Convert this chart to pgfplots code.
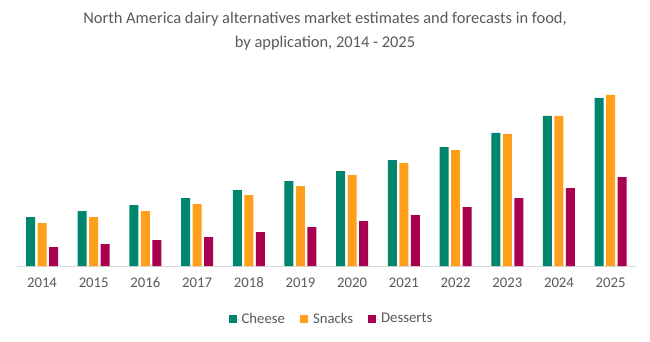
\documentclass[border=0pt]{standalone}
\usepackage{pgfplots}
\pgfplotsset{compat=1.18}
\usepackage{fontspec}
\setmainfont{Carlito}
\definecolor{cheese}{HTML}{00856F}
\definecolor{snacks}{HTML}{FF9F1C}
\definecolor{desserts}{HTML}{A8004F}
\definecolor{txt}{HTML}{595959}
\definecolor{axgray}{HTML}{D9D9D9}
\begin{document}
\begin{tikzpicture}[x=1bp,y=1bp]
\path[use as bounding box] (0,0) rectangle (650,341);
\node[text=txt, font=\fontsize{16.5}{24}\selectfont, align=center] at (325,310) {North America dairy alternatives market estimates and forecasts in food,\\ by application, 2014 - 2025};
\begin{axis}[
  at={(17bp,75bp)}, anchor=south west,
  scale only axis, width=619bp, height=186bp,
  xmin=-0.4836, xmax=11.49, ymin=0, ymax=186,
  ybar=2.5bp, bar width=9bp,
  axis x line=bottom, axis y line=none,
  x axis line style={-, draw=axgray, line width=1bp},
  xtick={0,...,11},
  xticklabels={2014,2015,2016,2017,2018,2019,2020,2021,2022,2023,2024,2025},
  major tick length=0pt,
  xticklabel style={font=\fontsize{14.8}{17}\selectfont, text=txt, yshift=-8bp},
  ytick=\empty,
  clip=false,
  legend columns=3,
  legend style={at={(0.508,-0.285)}, anchor=center, draw=none, font=\fontsize{14.8}{17}\selectfont, text=txt,
    /tikz/every even column/.append style={column sep=13bp}},
  legend image code/.code={\fill[#1] (0bp,-4bp) rectangle (8bp,4bp); \path (0bp,0bp) -- (11bp,0bp);},
]
\addplot[fill=cheese, draw=none] coordinates {(0,49) (1,55) (2,61) (3,68) (4,76) (5,85) (6,95) (7,106) (8,119) (9,133) (10,150) (11,168)};
\addplot[fill=snacks, draw=none] coordinates {(0,43) (1,49) (2,55) (3,62) (4,71) (5,80) (6,91) (7,103) (8,116) (9,132) (10,150) (11,171)};
\addplot[fill=desserts, draw=none] coordinates {(0,19) (1,22) (2,26) (3,29) (4,34) (5,39) (6,45) (7,51) (8,59) (9,68) (10,78) (11,89)};
\legend{Cheese,Snacks,Desserts}
\end{axis}
\end{tikzpicture}
\end{document}
